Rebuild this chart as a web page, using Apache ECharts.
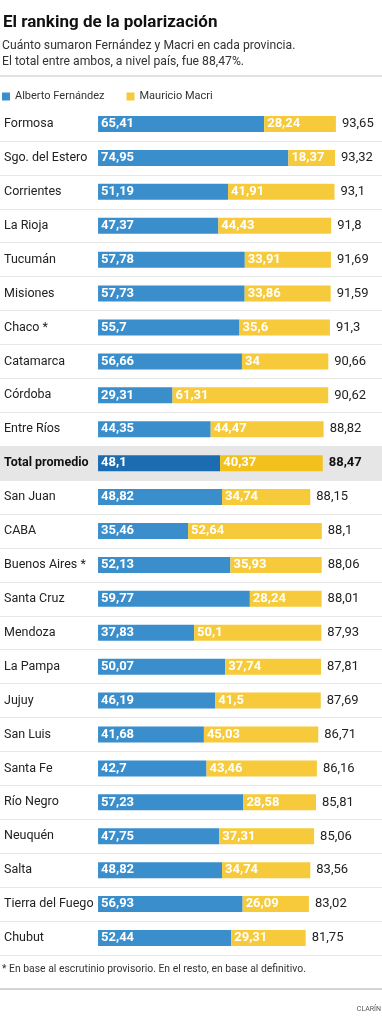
<!DOCTYPE html>
<html>
<head>
<meta charset="utf-8">
<script src="https://cdn.jsdelivr.net/npm/echarts@6/dist/echarts.min.js"></script>
<style>
html,body{margin:0;padding:0;background:#fff;}
#chart{width:382px;height:1024px;}
</style>
</head>
<body>
<div id="chart"></div>
<script>
const categories = ['Formosa','Sgo. del Estero','Corrientes','La Rioja','Tucumán','Misiones','Chaco *','Catamarca','Córdoba','Entre Ríos','Total promedio','San Juan','CABA','Buenos Aires *','Santa Cruz','Mendoza','La Pampa','Jujuy','San Luis','Santa Fe','Río Negro','Neuquén','Salta','Tierra del Fuego','Chubut'];
const fernandez = [65.41,74.95,51.19,47.37,57.78,57.73,55.7,56.66,29.31,44.35,48.1,48.82,35.46,52.13,59.77,37.83,50.07,46.19,41.68,42.7,57.23,47.75,48.82,56.93,52.44];
const macri = [28.24,18.37,41.91,44.43,33.91,33.86,35.6,34,61.31,44.47,40.37,34.74,52.64,35.93,28.24,50.1,37.74,41.5,45.03,43.46,28.58,37.31,34.74,26.09,29.31];
const totals = [93.65,93.32,93.1,91.8,91.69,91.59,91.3,90.66,90.62,88.82,88.47,88.15,88.1,88.06,88.01,87.93,87.81,87.69,86.71,86.16,85.81,85.06,83.56,83.02,81.75];
const highlight = 'Total promedio';

const FONT = 'Roboto, "Noto Sans", sans-serif';
const BLUE = '#3a8ecb', YELLOW = '#f6ca3a', DBLUE = '#1b6cb0', DYELLOW = '#f3c11c';
const hi = categories.indexOf(highlight);
const fmt = v => String(v).replace('.', ',');

const chart = echarts.init(document.getElementById('chart'), null, {renderer:'canvas'});
const bandColors = categories.map((c,i) => i === hi ? '#e6e6e6' : 'rgba(0,0,0,0)');

chart.setOption({
  animation:false,
  backgroundColor:'#fff',
  title:[
    {text:'El ranking de la polarización', left:3, top:14, padding:0, textStyle:{fontFamily:FONT, fontSize:17, fontWeight:'bold', color:'#111'}},
    {text:'Cuánto sumaron Fernández y Macri en cada provincia.\nEl total entre ambos, a nivel país, fue 88,47%.', left:2, top:38, padding:0, textStyle:{fontFamily:FONT, fontSize:12.2, fontWeight:'normal', color:'#333', lineHeight:16}},
    {text:'* En base al escrutinio provisorio. En el resto, en base al definitivo.', left:2, top:964, padding:0, textStyle:{fontFamily:FONT, fontSize:10.4, fontWeight:'normal', color:'#333'}},
    {text:'CLARÍN', right:1, top:1006, padding:0, textStyle:{fontFamily:FONT, fontSize:7, fontWeight:'normal', color:'#555'}}
  ],
  graphic:[
    {type:'line', shape:{x1:0,y1:76,x2:382,y2:76}, style:{stroke:'#c4c4c4', lineWidth:1}},
    {type:'line', shape:{x1:0,y1:989,x2:382,y2:989}, style:{stroke:'#a8a8a8', lineWidth:1}}
  ],
  legend:{
    data:['Alberto Fernández','Mauricio Macri'],
    left:2, top:91, padding:0, icon:'rect', itemWidth:8, itemHeight:8, itemGap:22,
    textStyle:{fontFamily:FONT, fontSize:11, color:'#333'}
  },
  grid:{left:0, right:0, top:107, height:848},
  xAxis:{type:'value', min:-38.6, max:111.8, show:false},
  yAxis:{
    type:'category', data:categories, inverse:true,
    axisLine:{show:false}, axisTick:{show:false},
    axisLabel:{inside:true, margin:4, color:'#222', fontFamily:FONT, fontSize:12.5,
      formatter:(v)=> v === highlight ? '{b|'+v+'}' : v,
      rich:{b:{fontFamily:FONT, fontSize:12.5, fontWeight:'bold', color:'#111'}}},
    splitLine:{show:true, showMinLine:false, lineStyle:{color:'#e6e6e6', width:1}},
    splitArea:{show:true, areaStyle:{color:bandColors}},
    z:0
  },
  series:[
    {name:'Alberto Fernández', type:'bar', stack:'t', barWidth:16, itemStyle:{color:BLUE},
      data:fernandez.map((v,i)=> i===hi ? {value:v, itemStyle:{color:DBLUE}} : v),
      label:{show:true, position:'insideLeft', distance:3, color:'#fff', fontFamily:FONT, fontSize:13, fontWeight:'bold', formatter:p=>fmt(p.value)}},
    {name:'Mauricio Macri', type:'bar', stack:'t', barWidth:16, itemStyle:{color:YELLOW},
      data:macri.map((v,i)=> i===hi ? {value:v, itemStyle:{color:DYELLOW}} : v),
      label:{show:true, position:'insideLeft', distance:3, color:'#fff', fontFamily:FONT, fontSize:13, fontWeight:'bold', formatter:p=>fmt(p.value)}},
    {name:'total', type:'bar', stack:'t', barWidth:16, itemStyle:{color:'rgba(0,0,0,0)'},
      data:totals.map(()=>0),
      label:{show:true, position:'right', distance:6, color:'#222', fontFamily:FONT, fontSize:13,
        formatter:p=> p.dataIndex===hi ? '{b|'+fmt(totals[p.dataIndex])+'}' : fmt(totals[p.dataIndex]),
        rich:{b:{fontFamily:FONT, fontSize:13, fontWeight:'bold', color:'#111'}}}}
  ]
});
</script>
</body>
</html>
